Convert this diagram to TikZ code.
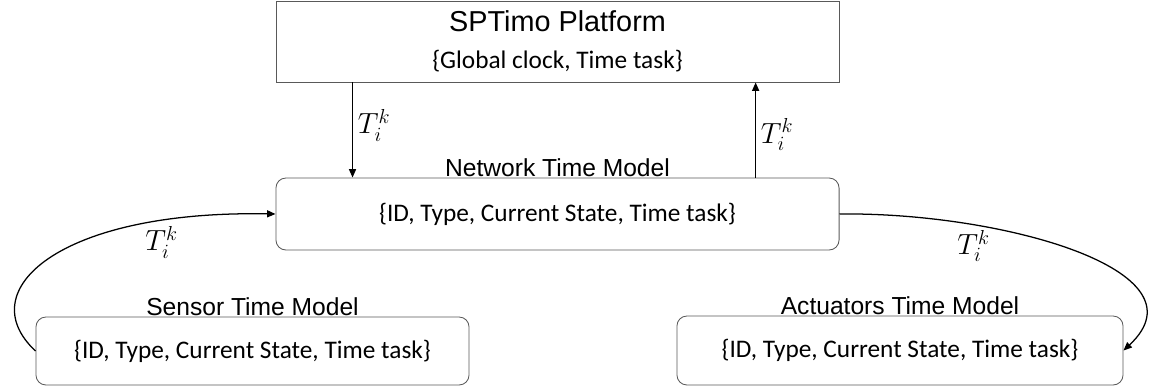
\documentclass[tikz,border=0pt]{standalone}
\usepackage{fontspec}
\setmainfont{Carlito}
\newfontfamily\arialfont{Liberation Sans}
\usetikzlibrary{positioning, arrows.meta}
\definecolor{boxgray}{rgb}{0.35, 0.35, 0.35}
\tikzstyle{box} = [rectangle,rounded corners=0.25cm,draw=boxgray,line width=0.6pt,align=center,font=\fontsize{18}{22}\selectfont]
\tikzstyle{lbl} = [inner sep=0pt,font=\arialfont\fontsize{17.5}{21}\selectfont]
\tikzstyle{arr} = [-{Triangle[length=6pt,width=5pt]},line width=0.9pt,black]
\tikzstyle{tk} = [font=\fontsize{21}{25}\selectfont]

\begin{document}
\begin{tikzpicture}[x=0.025cm,y=0.025cm]
  \useasboundingbox (0,0) rectangle (1153,391);
  % boxes
  \node[box,rounded corners=0pt,minimum width=14.075cm,minimum height=2.025cm] (plat) at (557.5,349.5)
    {{\arialfont\fontsize{20.5}{24}\selectfont SPTimo Platform}\\[4pt]\{Global clock, Time task\}};
  \node[box,minimum width=14.075cm,minimum height=1.8cm] (net) at (557.5,177) {\{ID, Type, Current State, Time task\}};
  \node[box,minimum width=10.825cm,minimum height=1.7cm] (sensor) at (252.5,40) {\{ID, Type, Current State, Time task\}};
  \node[box,minimum width=11.15cm,minimum height=1.725cm] (act) at (900,40.5) {\{ID, Type, Current State, Time task\}};
  % titles
  \node[lbl,above=0.3pt of net] (netlbl) {Network Time Model};
  \node[lbl,above=0.3pt of sensor] (sensorlbl) {Sensor Time Model};
  \node[lbl,above=0.3pt of act] (actlbl) {Actuators Time Model};
  % connectors
  \draw[arr] ([xshift=1.925cm]plat.south west) -- ([xshift=1.925cm]net.north west) node[tk,right,pos=0.45] (t1) {$T_i^k$};
  \draw[arr] ([xshift=12cm]net.north west) -- ([xshift=12cm]plat.south west) node[tk,right,pos=0.45] (t2) {$T_i^k$};
  \draw[arr] (sensor.west) .. controls (-30,101) and (60,181) .. (net.west) node[tk,below,pos=0.8] (t3) {$T_i^k$};
  \draw[arr] (net.east) .. controls (1000,179) and (1210,121) .. (act.east) node[tk,below,pos=0.27] (t4) {$T_i^k$};
\end{tikzpicture}
\end{document}
